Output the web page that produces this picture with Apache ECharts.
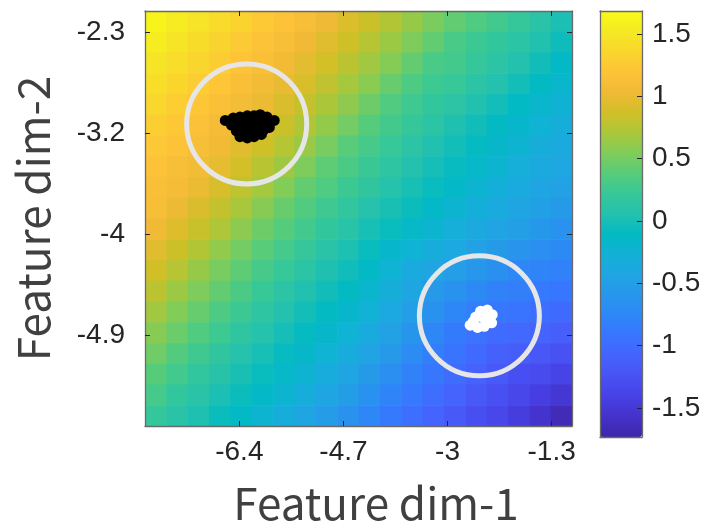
<!DOCTYPE html>
<html>
<head>
<meta charset="utf-8">
<script src="https://cdn.jsdelivr.net/npm/echarts@6/dist/echarts.min.js"></script>
<style>html,body{margin:0;padding:0;background:#fff}#c{width:711px;height:530px}</style>
</head>
<body>
<div id="c"></div>
<script>
// ---- data ----
const xCenters = [-7.767,-7.418,-7.069,-6.721,-6.372,-6.023,-5.674,-5.326,-4.977,-4.628,-4.279,-3.930,-3.582,-3.233,-2.884,-2.535,-2.187,-1.838,-1.489,-1.140];
const yCenters = [-2.198,-2.377,-2.555,-2.734,-2.912,-3.090,-3.269,-3.447,-3.625,-3.804,-3.982,-4.161,-4.339,-4.517,-4.696,-4.874,-5.053,-5.231,-5.409,-5.588];
// heat values, one row per yCenters entry (top to bottom), one column per xCenters entry
const heatRows = [
 [1.62,1.55,1.47,1.40,1.33,1.25,1.18,1.11,1.03,0.93,0.84,0.74,0.63,0.52,0.42,0.34,0.27,0.20,0.11,0.02],
 [1.56,1.48,1.41,1.34,1.26,1.19,1.12,1.04,0.95,0.86,0.76,0.65,0.54,0.42,0.31,0.24,0.18,0.12,0.05,-0.05],
 [1.49,1.42,1.35,1.27,1.20,1.13,1.05,0.97,0.88,0.78,0.67,0.56,0.43,0.31,0.28,0.20,0.13,0.06,-0.03,-0.13],
 [1.43,1.36,1.28,1.21,1.14,1.07,0.99,0.90,0.80,0.69,0.58,0.45,0.33,0.25,0.21,0.13,0.06,-0.02,-0.10,-0.18],
 [1.37,1.29,1.22,1.15,1.08,1.01,0.92,0.82,0.71,0.60,0.47,0.35,0.26,0.18,0.13,0.05,-0.02,-0.11,-0.18,-0.25],
 [1.30,1.23,1.16,1.09,1.03,0.94,0.84,0.73,0.62,0.49,0.37,0.28,0.20,0.12,0.04,-0.03,-0.10,-0.17,-0.24,-0.31],
 [1.24,1.17,1.11,1.05,0.96,0.86,0.75,0.64,0.51,0.39,0.30,0.21,0.13,0.05,-0.02,-0.09,-0.16,-0.23,-0.31,-0.36],
 [1.18,1.12,1.07,0.98,0.88,0.77,0.66,0.53,0.41,0.32,0.23,0.14,0.06,-0.01,-0.08,-0.15,-0.22,-0.30,-0.36,-0.41],
 [1.13,1.09,1.00,0.90,0.79,0.68,0.55,0.43,0.34,0.24,0.16,0.07,0.00,-0.07,-0.14,-0.22,-0.29,-0.35,-0.42,-0.47],
 [1.11,1.02,0.92,0.81,0.70,0.57,0.45,0.35,0.26,0.17,0.08,0.01,-0.06,-0.14,-0.21,-0.29,-0.35,-0.42,-0.48,-0.55],
 [1.04,0.94,0.83,0.72,0.59,0.47,0.37,0.27,0.18,0.10,0.00,-0.07,-0.15,-0.22,-0.30,-0.37,-0.44,-0.50,-0.57,-0.64],
 [0.96,0.85,0.74,0.61,0.49,0.39,0.29,0.20,0.11,0.03,-0.07,-0.17,-0.24,-0.32,-0.39,-0.47,-0.54,-0.61,-0.68,-0.72],
 [0.87,0.76,0.63,0.51,0.41,0.30,0.21,0.12,0.04,-0.04,-0.13,-0.24,-0.36,-0.43,-0.51,-0.58,-0.66,-0.74,-0.77,-0.81],
 [0.78,0.65,0.53,0.43,0.32,0.22,0.13,0.05,-0.03,-0.10,-0.20,-0.31,-0.43,-0.56,-0.64,-0.72,-0.80,-0.83,-0.87,-0.91],
 [0.67,0.55,0.44,0.33,0.24,0.14,0.06,-0.02,-0.10,-0.17,-0.27,-0.39,-0.51,-0.64,-0.76,-0.84,-0.90,-0.93,-0.97,-1.01],
 [0.57,0.46,0.35,0.25,0.15,0.07,-0.01,-0.09,-0.16,-0.24,-0.35,-0.47,-0.60,-0.74,-0.86,-0.95,-1.00,-1.03,-1.07,-1.13],
 [0.48,0.36,0.26,0.16,0.08,0.00,-0.08,-0.16,-0.24,-0.33,-0.44,-0.56,-0.70,-0.84,-0.93,-1.02,-1.11,-1.14,-1.19,-1.25],
 [0.38,0.27,0.17,0.09,0.01,-0.07,-0.15,-0.23,-0.33,-0.42,-0.54,-0.67,-0.80,-0.90,-0.99,-1.09,-1.18,-1.27,-1.31,-1.38],
 [0.29,0.18,0.10,0.02,-0.06,-0.14,-0.22,-0.32,-0.43,-0.52,-0.65,-0.78,-0.88,-0.98,-1.07,-1.17,-1.26,-1.35,-1.44,-1.52],
 [0.19,0.11,0.03,-0.06,-0.13,-0.22,-0.32,-0.43,-0.53,-0.64,-0.76,-0.87,-0.97,-1.07,-1.17,-1.27,-1.35,-1.45,-1.56,-1.66]
];
const blackX = [-6.63,-6.50,-6.39,-6.27,-6.16,-6.06,-5.95,-5.83,-6.53,-6.42,-6.30,-6.19,-6.08,-5.96,-6.45,-6.34,-6.22,-6.11,-6.00,-6.39,-6.27,-6.16,-6.04,-5.91];
const blackY = [-3.05,-3.03,-3.02,-3.01,-3.01,-3.00,-3.02,-3.05,-3.09,-3.10,-3.08,-3.09,-3.08,-3.09,-3.14,-3.15,-3.14,-3.15,-3.13,-3.19,-3.20,-3.19,-3.17,-3.11];
const whiteX = [-2.63,-2.54,-2.46,-2.35,-2.27,-2.28,-2.40,-2.51,-2.43,-2.36,-2.58,-2.32];
const whiteY = [-4.81,-4.74,-4.69,-4.68,-4.72,-4.79,-4.82,-4.83,-4.74,-4.76,-4.78,-4.72];
const circleX = [-6.28,-2.48];
const circleY = [-3.08,-4.73];
const xTicks = [-6.4,-4.7,-3,-1.3];
const xTickLabels = ['-6.4','-4.7','-3','-1.3'];
const yTicks = [-4.90,-4.03,-3.16,-2.29];
const yTickLabels = ['-4.9','-4','-3.2','-2.3'];
const cbTicks = [-1.5,-1,-0.5,0,0.5,1,1.5];
const cbTickLabels = ['-1.5','-1','-0.5','0','0.5','1','1.5'];
const xRange = [-7.941,-0.967];
const yRange = [-5.677,-2.109];
const cRange = [-1.732,1.684];
const xTitle = 'Feature dim-1';
const yTitle = 'Feature dim-2';

// ---- style ----
const parula = ['#3E26A8','#4432CB','#4741E5','#4852F4','#4563FD','#3875FE','#2E87F7','#2796EB','#20A5E3','#12B1D6','#02BAC3','#24C1AE','#37C897','#57CC7A','#81CC59','#ABC739','#D1BF27','#F0BA36','#FEC338','#FAD62D','#F5E924','#F9FB15'];
const lineCol = '#6a6a6a', tickCol = '#262626', labCol = '#262626';
const labFont = {fontFamily:'Liberation Sans', fontSize:28, color:labCol};

const heatData = [];
heatRows.forEach((row, r) => row.forEach((v, c) => heatData.push([xCenters[c], yCenters[r], v])));
const hw = (xCenters[xCenters.length-1] - xCenters[0]) / (xCenters.length-1) / 2;
const hh = (yCenters[0] - yCenters[yCenters.length-1]) / (yCenters.length-1) / 2;

function fmt(ticks, labels){ return v => { const i = ticks.findIndex(t => Math.abs(t - v) < 1e-6); return i < 0 ? '' : labels[i]; }; }
function axis(o){
  return Object.assign({
    type:'value', z:10, splitLine:{show:false},
    axisLine:{show:true, onZero:false, lineStyle:{color:lineCol, width:1.3}},
    axisTick:{show:true, inside:true, length:5, lineStyle:{color:tickCol, width:1}},
    axisLabel:{show:false}
  }, o);
}

const chart = echarts.init(document.getElementById('c'), null, {renderer:'canvas'});
chart.setOption({
  backgroundColor:'#ffffff',
  animation:false,
  grid:[
    {left:145, top:11, width:427, height:426, containLabel:false},
    {left:600, top:11, width:42, height:426, containLabel:false}
  ],
  xAxis:[
    axis({gridIndex:0, position:'bottom', min:xRange[0], max:xRange[1],
      axisTick:{show:true, inside:true, length:5, customValues:xTicks, lineStyle:{color:tickCol}},
      axisLabel:Object.assign({show:true, margin:12, customValues:xTicks, formatter:fmt(xTicks,xTickLabels)}, labFont),
      name:xTitle, nameLocation:'middle', nameGap:55,
      nameTextStyle:{fontFamily:'Noto Sans CJK SC', fontSize:44, color:'#404040', padding:[0,0,0,35]}}),
    axis({gridIndex:0, position:'top', min:xRange[0], max:xRange[1],
      axisTick:{show:true, inside:true, length:5, customValues:xTicks, lineStyle:{color:tickCol}}}),
    axis({gridIndex:1, position:'bottom', min:0, max:1, axisTick:{show:false}}),
    axis({gridIndex:1, position:'top', min:0, max:1, axisTick:{show:false}})
  ],
  yAxis:[
    axis({gridIndex:0, position:'left', min:yRange[0], max:yRange[1],
      axisTick:{show:true, inside:true, length:5, customValues:yTicks, lineStyle:{color:tickCol}},
      axisLabel:Object.assign({show:true, margin:20, customValues:yTicks, formatter:fmt(yTicks,yTickLabels)}, labFont),
      name:yTitle, nameLocation:'middle', nameGap:90, nameRotate:90,
      nameTextStyle:{fontFamily:'Noto Sans CJK SC', fontSize:44, color:'#404040'}}),
    axis({gridIndex:0, position:'right', min:yRange[0], max:yRange[1],
      axisTick:{show:true, inside:true, length:5, customValues:yTicks, lineStyle:{color:tickCol}}}),
    axis({gridIndex:1, position:'right', min:cRange[0], max:cRange[1],
      axisTick:{show:true, inside:true, length:5, customValues:cbTicks, lineStyle:{color:tickCol}},
      axisLabel:Object.assign({show:true, margin:10, customValues:cbTicks, formatter:fmt(cbTicks,cbTickLabels)}, labFont)}),
    axis({gridIndex:1, position:'left', min:cRange[0], max:cRange[1], axisTick:{show:false}})
  ],
  visualMap:{
    type:'continuous', min:cRange[0], max:cRange[1], seriesIndex:0, dimension:2,
    calculable:false, hoverLink:false, orient:'vertical',
    left:600, top:11, itemWidth:42, itemHeight:426, padding:0, text:null,
    inRange:{color:parula}
  },
  series:[
    {
      type:'custom', xAxisIndex:0, yAxisIndex:0, clip:true, z:1,
      renderItem:function(params, api){
        const x = api.value(0), y = api.value(1);
        const p0 = api.coord([x - hw, y + hh]);
        const p1 = api.coord([x + hw, y - hh]);
        return {type:'rect', shape:{x:p0[0], y:p0[1], width:p1[0]-p0[0]+0.6, height:p1[1]-p0[1]+0.6},
          style:{fill:api.visual('color')}};
      },
      data:heatData
    },
    {
      type:'scatter', xAxisIndex:0, yAxisIndex:0, symbol:'circle', symbolSize:120, z:3, silent:true,
      itemStyle:{color:'rgba(0,0,0,0)', borderColor:'#E6E6E6', borderWidth:5, opacity:1},
      data:circleX.map((x,i)=>[x, circleY[i]])
    },
    {
      type:'scatter', xAxisIndex:0, yAxisIndex:0, symbol:'circle', symbolSize:11, z:4, silent:true,
      itemStyle:{color:'#000000', opacity:1},
      data:blackX.map((x,i)=>[x, blackY[i]])
    },
    {
      type:'scatter', xAxisIndex:0, yAxisIndex:0, symbol:'circle', symbolSize:11, z:4, silent:true,
      itemStyle:{color:'#ffffff', opacity:1},
      data:whiteX.map((x,i)=>[x, whiteY[i]])
    }
  ]
});
</script>
</body>
</html>
